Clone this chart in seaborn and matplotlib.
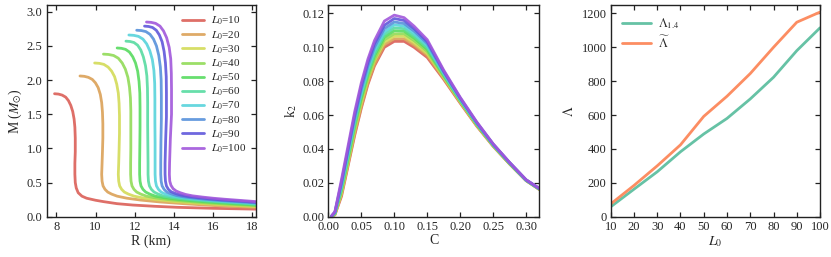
import numpy as np
import pandas as pd
import seaborn as sns
import matplotlib
matplotlib.use('Agg')
import matplotlib.pyplot as plt

# L0 values used for the EOS family
L0_values = [10, 20, 30, 40, 50, 60, 70, 80, 90, 100]

# Mass-radius curves (R in km, M in solar masses)
R_L10 = [7.90, 8.10, 8.29, 8.47, 8.61, 8.73, 8.83, 8.90, 8.94, 8.96, 8.96, 8.94,
         8.94, 8.96, 9.01, 9.11, 9.30, 9.54, 10.0, 10.4, 11.1, 11.9, 13.0, 14.15, 16.0, 18.2]
M_L10 = [1.80, 1.795, 1.78, 1.75, 1.70, 1.63, 1.54, 1.43, 1.31, 1.15, 0.95, 0.78,
         0.62, 0.50, 0.42, 0.35, 0.30, 0.27, 0.24, 0.22, 0.19, 0.17, 0.152, 0.137, 0.122, 0.110]
R_L20 = [9.20, 9.42, 9.63, 9.83, 9.99, 10.13, 10.24, 10.31, 10.35, 10.37, 10.37, 10.35, 10.33,
         10.31, 10.33, 10.38, 10.48, 10.62, 10.82, 11.1, 11.6, 12.3, 13.3, 14.5, 16.0, 17.2, 18.2]
M_L20 = [2.06, 2.055, 2.04, 2.01, 1.96, 1.89, 1.79, 1.67, 1.53, 1.36, 1.15, 0.95, 0.78,
         0.62, 0.52, 0.45, 0.40, 0.36, 0.33, 0.30, 0.27, 0.243, 0.215, 0.19, 0.163, 0.147, 0.135]
R_L30 = [9.95, 10.19, 10.42, 10.64, 10.82, 10.97, 11.08, 11.16, 11.20, 11.22, 11.22, 11.20, 11.18,
         11.16, 11.18, 11.23, 11.33, 11.47, 11.68, 11.97, 12.45, 13.1, 14.0, 15.1, 16.4, 17.4, 18.2]
M_L30 = [2.25, 2.245, 2.23, 2.19, 2.13, 2.05, 1.94, 1.81, 1.66, 1.48, 1.22, 0.98, 0.78,
         0.62, 0.52, 0.45, 0.40, 0.36, 0.33, 0.30, 0.272, 0.248, 0.222, 0.198, 0.176, 0.160, 0.148]
R_L40 = [10.40, 10.66, 10.92, 11.16, 11.36, 11.52, 11.65, 11.73, 11.78, 11.80, 11.80, 11.80, 11.79,
         11.79, 11.81, 11.86, 11.96, 12.10, 12.31, 12.60, 13.05, 13.7, 14.5, 15.5, 16.6, 17.5, 18.2]
M_L40 = [2.38, 2.375, 2.36, 2.32, 2.25, 2.16, 2.04, 1.90, 1.74, 1.55, 1.27, 1.00, 0.78,
         0.62, 0.52, 0.45, 0.40, 0.36, 0.33, 0.30, 0.275, 0.25, 0.228, 0.205, 0.185, 0.171, 0.160]
R_L50 = [11.10, 11.32, 11.53, 11.73, 11.90, 12.04, 12.15, 12.22, 12.26, 12.27, 12.27, 12.26, 12.25,
         12.25, 12.27, 12.32, 12.42, 12.56, 12.77, 13.06, 13.5, 14.1, 14.9, 15.8, 16.8, 17.6, 18.2]
M_L50 = [2.47, 2.465, 2.45, 2.41, 2.34, 2.25, 2.13, 1.98, 1.81, 1.61, 1.31, 1.02, 0.78,
         0.62, 0.52, 0.45, 0.40, 0.36, 0.33, 0.30, 0.277, 0.255, 0.233, 0.213, 0.195, 0.181, 0.170]
R_L60 = [11.55, 11.76, 11.96, 12.15, 12.31, 12.44, 12.55, 12.62, 12.65, 12.66, 12.66, 12.67, 12.68,
         12.68, 12.70, 12.75, 12.85, 12.99, 13.20, 13.48, 13.9, 14.45, 15.2, 16.0, 16.9, 17.7, 18.2]
M_L60 = [2.57, 2.565, 2.55, 2.51, 2.44, 2.34, 2.21, 2.06, 1.88, 1.67, 1.35, 1.05, 0.78,
         0.62, 0.52, 0.45, 0.40, 0.36, 0.33, 0.30, 0.28, 0.26, 0.24, 0.222, 0.205, 0.191, 0.180]
R_L70 = [11.70, 11.95, 12.19, 12.42, 12.61, 12.77, 12.90, 12.98, 13.02, 13.03, 13.03, 13.04, 13.04,
         13.04, 13.06, 13.11, 13.21, 13.35, 13.56, 13.84, 14.25, 14.8, 15.5, 16.2, 17.0, 17.7, 18.2]
M_L70 = [2.66, 2.655, 2.64, 2.60, 2.53, 2.43, 2.30, 2.14, 1.95, 1.73, 1.40, 1.08, 0.78,
         0.62, 0.52, 0.45, 0.40, 0.36, 0.33, 0.305, 0.284, 0.265, 0.246, 0.23, 0.214, 0.201, 0.190]
R_L80 = [12.10, 12.34, 12.57, 12.78, 12.96, 13.11, 13.23, 13.31, 13.35, 13.36, 13.36, 13.34, 13.33,
         13.33, 13.35, 13.40, 13.50, 13.64, 13.85, 14.12, 14.5, 15.0, 15.6, 16.3, 17.0, 17.7, 18.2]
M_L80 = [2.73, 2.725, 2.71, 2.67, 2.60, 2.50, 2.36, 2.19, 2.00, 1.77, 1.43, 1.10, 0.78,
         0.62, 0.52, 0.45, 0.40, 0.36, 0.335, 0.31, 0.29, 0.272, 0.254, 0.238, 0.224, 0.211, 0.200]
R_L90 = [12.50, 12.71, 12.91, 13.10, 13.26, 13.40, 13.50, 13.57, 13.61, 13.62, 13.62, 13.58, 13.55,
         13.55, 13.57, 13.62, 13.72, 13.86, 14.07, 14.33, 14.7, 15.2, 15.8, 16.4, 17.1, 17.7, 18.2]
M_L90 = [2.79, 2.785, 2.77, 2.73, 2.66, 2.56, 2.42, 2.25, 2.05, 1.81, 1.46, 1.12, 0.78,
         0.62, 0.52, 0.45, 0.40, 0.365, 0.34, 0.317, 0.296, 0.278, 0.261, 0.246, 0.233, 0.221, 0.210]
R_L100 = [12.60, 12.84, 13.07, 13.29, 13.47, 13.63, 13.76, 13.84, 13.87, 13.88, 13.88, 13.82, 13.78,
          13.77, 13.79, 13.85, 13.96, 14.12, 14.33, 14.6, 14.95, 15.45, 16.0, 16.6, 17.2, 17.8, 18.2]
M_L100 = [2.85, 2.845, 2.83, 2.79, 2.72, 2.62, 2.48, 2.31, 2.10, 1.86, 1.50, 1.14, 0.78,
          0.62, 0.52, 0.46, 0.41, 0.375, 0.35, 0.325, 0.305, 0.287, 0.27, 0.255, 0.242, 0.229, 0.220]

# Love number k2 vs compactness C
C_grid = [0.005, 0.01, 0.02, 0.03, 0.04, 0.05, 0.06, 0.07, 0.085, 0.10, 0.115, 0.13, 0.15, 0.175, 0.20, 0.225, 0.25, 0.275, 0.30, 0.32]
k2_L10 = [0.0, 0.001, 0.012, 0.030, 0.048, 0.064, 0.078, 0.089, 0.1000, 0.1035, 0.1035, 0.1000, 0.0940, 0.0810, 0.0670, 0.0535, 0.0415, 0.0310, 0.0212, 0.0160]
k2_L20 = [0.0, 0.0012, 0.013, 0.031, 0.049, 0.065, 0.079, 0.090, 0.1015, 0.1050, 0.1050, 0.1013, 0.0952, 0.0816, 0.0674, 0.0538, 0.0417, 0.0311, 0.0213, 0.0161]
k2_L30 = [0.0, 0.0014, 0.014, 0.032, 0.051, 0.067, 0.081, 0.092, 0.1030, 0.1065, 0.1065, 0.1027, 0.0963, 0.0822, 0.0678, 0.0541, 0.0418, 0.0312, 0.0214, 0.0162]
k2_L40 = [0.0001, 0.0016, 0.015, 0.033, 0.052, 0.069, 0.082, 0.093, 0.1045, 0.1080, 0.1080, 0.1040, 0.0975, 0.0828, 0.0682, 0.0544, 0.0420, 0.0313, 0.0214, 0.0162]
k2_L50 = [0.0002, 0.0018, 0.016, 0.035, 0.054, 0.070, 0.084, 0.095, 0.1060, 0.1098, 0.1095, 0.1055, 0.0987, 0.0834, 0.0686, 0.0546, 0.0422, 0.0314, 0.0215, 0.0163]
k2_L60 = [0.0002, 0.0020, 0.017, 0.036, 0.055, 0.072, 0.085, 0.096, 0.1075, 0.1115, 0.1110, 0.1068, 0.0998, 0.0840, 0.0689, 0.0549, 0.0423, 0.0316, 0.0215, 0.0164]
k2_L70 = [0.0003, 0.0022, 0.018, 0.037, 0.057, 0.073, 0.087, 0.098, 0.1090, 0.1133, 0.1125, 0.1082, 0.1010, 0.0846, 0.0693, 0.0552, 0.0425, 0.0317, 0.0216, 0.0165]
k2_L80 = [0.0004, 0.0025, 0.019, 0.039, 0.058, 0.075, 0.089, 0.100, 0.1110, 0.1150, 0.1140, 0.1096, 0.1022, 0.0853, 0.0697, 0.0554, 0.0427, 0.0318, 0.0216, 0.0165]
k2_L90 = [0.0004, 0.0027, 0.0205, 0.040, 0.060, 0.077, 0.091, 0.102, 0.1130, 0.1170, 0.1158, 0.1110, 0.1033, 0.0859, 0.0701, 0.0557, 0.0428, 0.0319, 0.0217, 0.0166]
k2_L100 = [0.0005, 0.0030, 0.022, 0.042, 0.062, 0.079, 0.093, 0.104, 0.1155, 0.1190, 0.1175, 0.1125, 0.1045, 0.0865, 0.0705, 0.0560, 0.0430, 0.0320, 0.0218, 0.0167]

# Tidal deformabilities vs L0
Lambda_14 = [58, 162, 265, 383, 488, 580, 695, 823, 980, 1115]
Lambda_tilde = [75, 184, 300, 424, 592, 711, 845, 1000, 1148, 1208]

R_curves = [R_L10, R_L20, R_L30, R_L40, R_L50, R_L60, R_L70, R_L80, R_L90, R_L100]
M_curves = [M_L10, M_L20, M_L30, M_L40, M_L50, M_L60, M_L70, M_L80, M_L90, M_L100]
k2_curves = [k2_L10, k2_L20, k2_L30, k2_L40, k2_L50, k2_L60, k2_L70, k2_L80, k2_L90, k2_L100]

labels = [r'$L_0$=%d' % L for L in L0_values]

# long-form tables for seaborn
mr_rows = []
for lab, Rs, Ms in zip(labels, R_curves, M_curves):
    for r, m in zip(Rs, Ms):
        mr_rows.append({'curve': lab, 'R': r, 'M': m})
mr_df = pd.DataFrame(mr_rows)

k2_rows = []
for lab, ks in zip(labels, k2_curves):
    for c, k in zip(C_grid, ks):
        k2_rows.append({'curve': lab, 'C': c, 'k2': k})
k2_df = pd.DataFrame(k2_rows)

lam_df = pd.DataFrame({
    'L0': L0_values * 2,
    'Lambda': Lambda_14 + Lambda_tilde,
    'kind': [r'$\Lambda_{1.4}$'] * 10 + [r'$\widetilde{\Lambda}$'] * 10,
})

# Style
sns.set_style('ticks')
plt.rcParams['font.family'] = ['Liberation Serif', 'DejaVu Serif']
plt.rcParams['mathtext.fontset'] = 'stix'
plt.rcParams['axes.edgecolor'] = '#222222'
plt.rcParams['axes.linewidth'] = 1.0

palette = sns.color_palette('hls', 12)[:10]

fig = plt.figure(figsize=(8.31, 2.57), dpi=100)
ax1 = fig.add_axes([0.0562, 0.157, 0.2519, 0.8237])
ax2 = fig.add_axes([0.3951, 0.157, 0.2539, 0.8237])
ax3 = fig.add_axes([0.7349, 0.157, 0.2519, 0.8237])

# Panel 1: M-R
sns.lineplot(data=mr_df, x='R', y='M', hue='curve', units='curve', estimator=None,
             sort=False, palette=palette, lw=2, alpha=0.9, ax=ax1)
ax1.set_xlim(7.5, 18.2)
ax1.set_ylim(0, 3.1)
ax1.set_xticks([8, 10, 12, 14, 16, 18])
ax1.set_yticks([0.0, 0.5, 1.0, 1.5, 2.0, 2.5, 3.0])
ax1.set_xlabel('R (km)', fontsize=10, labelpad=1)
ax1.set_ylabel(r'M ($M_{\odot}$)', fontsize=10, labelpad=2)
ax1.legend(frameon=False, loc='upper right', fontsize=8, labelspacing=0.15,
           handlelength=2.0, handletextpad=0.6)

# Panel 2: k2-C
sns.lineplot(data=k2_df, x='C', y='k2', hue='curve', estimator=None,
             palette=palette, lw=2, alpha=0.9, ax=ax2, legend=False)
ax2.set_xlim(0, 0.32)
ax2.set_ylim(0, 0.125)
ax2.set_xticks([0.0, 0.05, 0.10, 0.15, 0.20, 0.25, 0.30])
ax2.set_yticks([0.0, 0.02, 0.04, 0.06, 0.08, 0.10, 0.12])
ax2.xaxis.set_major_formatter(matplotlib.ticker.FormatStrFormatter('%.2f'))
ax2.yaxis.set_major_formatter(matplotlib.ticker.FormatStrFormatter('%.2f'))
ax2.set_xlabel('C', fontsize=10, labelpad=1)
ax2.set_ylabel(r'k$_2$', fontsize=10, labelpad=2)

# Panel 3: Lambda-L0
sns.lineplot(data=lam_df, x='L0', y='Lambda', hue='kind',
             palette=sns.color_palette('Set2', 2), lw=2, ax=ax3)
ax3.set_xlim(10, 100)
ax3.set_ylim(0, 1250)
ax3.set_xticks(L0_values)
ax3.set_yticks([0, 200, 400, 600, 800, 1000, 1200])
ax3.set_xlabel(r'$L_0$', fontsize=10, labelpad=1)
ax3.set_ylabel(r'$\Lambda$', fontsize=10, labelpad=4)
ax3.legend(frameon=False, loc='upper left', fontsize=9, handlelength=2.3,
           handletextpad=0.6, labelspacing=0.3)

for ax in (ax1, ax2, ax3):
    ax.tick_params(direction='in', top=True, right=True, length=3.5, width=0.9,
                   labelsize=9, pad=3, color='#222222')

fig.savefig('out.png', dpi=100)
